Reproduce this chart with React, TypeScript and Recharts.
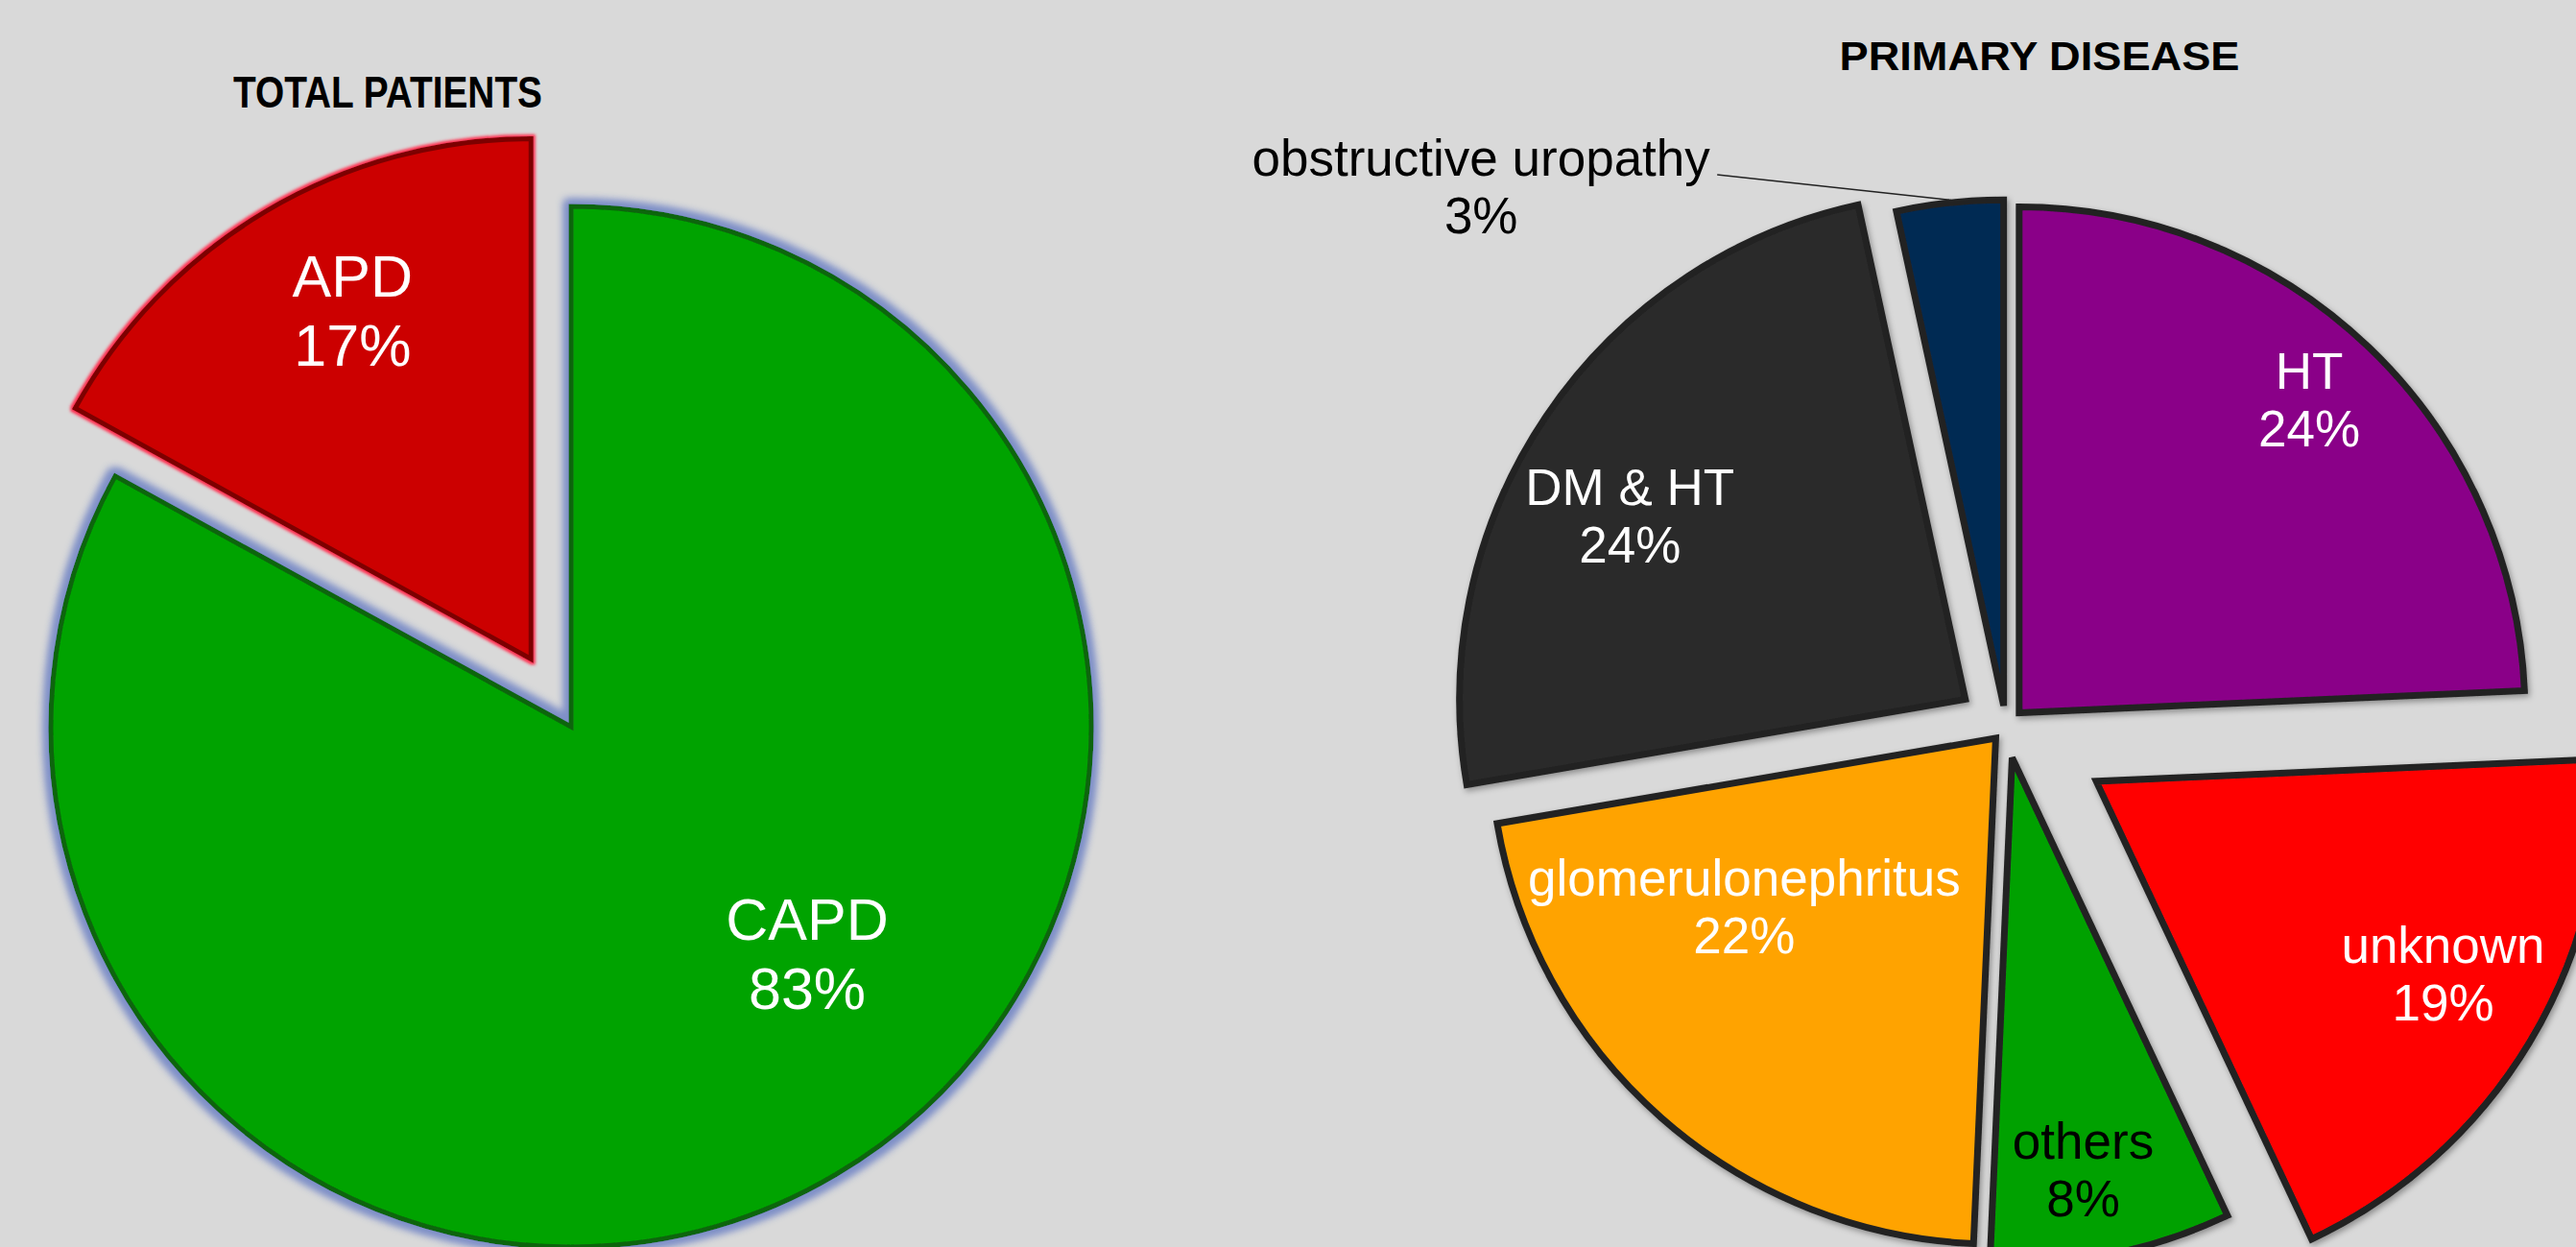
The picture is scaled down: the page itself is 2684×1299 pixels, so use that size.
import { PieChart, Pie, Cell } from 'recharts'

const W = 2684
const H = 1299

// TOTAL PATIENTS
const modalityNames = ['CAPD', 'APD']
const modalityValues = [83, 17]

// PRIMARY DISEASE (clockwise from 12 o'clock)
const diseaseNames = ['HT', 'unknown', 'others', 'glomerulonephritus', 'DM & HT', 'obstructive uropathy']
const diseaseValues = [24.3, 18.7, 7.7, 21.6, 24.3, 3.4]

const modalityData = modalityNames.map((name, i) => ({ name, value: modalityValues[i] }))
const diseaseData = diseaseNames.map((name, i) => ({ name, value: diseaseValues[i] }))

// styling
const FONT = "'Liberation Sans', Arial, Helvetica, sans-serif"
const LEFT = { cx: 595, cy: 757, r: 542 }
const RIGHT = { cx: 2090, cy: 757, r: 527 }

const modalityColors = ['#04a304', '#cc0000']
const modalityStrokes = ['#0a650a', '#7d0000']
const modalityFilters = ['url(#glowBlue)', 'url(#glowRed)']
const modalityExplode = [0, 82]
// [clock angle, fraction of radius] from slice tip
const modalityLabelPos = [
  [133.8, 0.629],
  [332.9, 0.753],
]

const diseaseColors = ['#8a0088', '#ff0606', '#05a105', '#ffa305', '#2b2b2b', '#052a52']
const diseaseText = ['#ffffff', '#ffffff', '#000000', '#ffffff', '#ffffff', '#000000']
const diseaseExplode = [20, 110, 33, 16, 51, 22]
const diseaseLabelPos = [
  [42.8, 0.844],
  [119.0, 0.784],
  [170.2, 0.825],
  [236.25, 0.598],
  [298.7, 0.756],
  [314.8, 1.456],
]

function clockMids(values: number[]) {
  const total = values.reduce((a, b) => a + b, 0)
  let acc = 0
  return values.map(v => {
    const mid = ((acc + v / 2) / total) * 360
    acc += v
    return mid
  })
}

function polar(cx: number, cy: number, r: number, deg: number) {
  const rad = (deg * Math.PI) / 180
  return { x: cx + r * Math.sin(rad), y: cy - r * Math.cos(rad) }
}

const modalityMids = clockMids(modalityValues)
const diseaseMids = clockMids(diseaseValues)

function twoLineLabel(
  x: number,
  y: number,
  name: string,
  pct: string,
  size: number,
  lineHeight: number,
  color: string
) {
  const first = y - lineHeight / 2 + (size * 0.716) / 2
  return (
    <g>
      <text x={x} y={first} textAnchor="middle" fontFamily={FONT} fontSize={size} fill={color}>
        {name}
      </text>
      <text x={x} y={first + lineHeight} textAnchor="middle" fontFamily={FONT} fontSize={size} fill={color}>
        {pct}
      </text>
    </g>
  )
}

export default function App() {
  return (
    <div style={{ position: 'fixed', left: 0, top: 0, width: W, height: H, background: '#d9d9d9' }}>
      <PieChart width={W} height={H} margin={{ top: 0, right: 0, bottom: 0, left: 0 }}>
        <defs>
          <filter id="glowBlue" x="-10%" y="-10%" width="120%" height="120%">
            <feMorphology in="SourceAlpha" operator="dilate" radius="4" result="d" />
            <feGaussianBlur in="d" stdDeviation="4.5" result="b" />
            <feFlood floodColor="#7f90c8" />
            <feComposite in2="b" operator="in" result="g" />
            <feMerge>
              <feMergeNode in="g" />
              <feMergeNode in="g" />
              <feMergeNode in="SourceGraphic" />
            </feMerge>
          </filter>
          <filter id="glowRed" x="-10%" y="-10%" width="120%" height="120%">
            <feMorphology in="SourceAlpha" operator="dilate" radius="1.5" result="d" />
            <feGaussianBlur in="d" stdDeviation="1.5" result="b" />
            <feFlood floodColor="#ff3050" />
            <feComposite in2="b" operator="in" result="g" />
            <feMerge>
              <feMergeNode in="g" />
              <feMergeNode in="SourceGraphic" />
            </feMerge>
          </filter>
          <filter id="shade" x="-10%" y="-10%" width="120%" height="120%">
            <feDropShadow dx="2" dy="3" stdDeviation="3" floodColor="#000" floodOpacity="0.35" />
          </filter>
        </defs>

        <text
          x={404}
          y={112}
          textAnchor="middle"
          fontFamily={FONT}
          fontWeight="bold"
          fontSize={47}
          textLength={322}
          lengthAdjust="spacingAndGlyphs"
          fill="#000"
        >
          TOTAL PATIENTS
        </text>
        <text
          x={2125}
          y={73}
          textAnchor="middle"
          fontFamily={FONT}
          fontWeight="bold"
          fontSize={43}
          textLength={417}
          lengthAdjust="spacingAndGlyphs"
          fill="#000"
        >
          PRIMARY DISEASE
        </text>

        {modalityData.map((entry, i) => {
          const c = polar(LEFT.cx, LEFT.cy, modalityExplode[i], modalityMids[i])
          return (
            <Pie
              key={`m-${entry.name}`}
              data={modalityData}
              dataKey="value"
              nameKey="name"
              cx={c.x}
              cy={c.y}
              outerRadius={LEFT.r}
              startAngle={90}
              endAngle={-270}
              isAnimationActive={false}
              labelLine={false}
              label={(p: any) => {
                if (p.index !== i) return <g />
                const [ang, frac] = modalityLabelPos[i]
                const pos = polar(p.cx, p.cy, LEFT.r * frac, ang)
                return twoLineLabel(pos.x, pos.y, entry.name, `${Math.round(p.percent * 100)}%`, 61, 72, '#ffffff')
              }}
            >
              {modalityData.map((d, j) => (
                <Cell
                  key={d.name}
                  fill={j === i ? modalityColors[i] : 'none'}
                  stroke={j === i ? modalityStrokes[i] : 'none'}
                  strokeWidth={5}
                  filter={j === i ? modalityFilters[i] : undefined}
                />
              ))}
            </Pie>
          )
        })}

        {diseaseData.map((entry, i) => {
          const c = polar(RIGHT.cx, RIGHT.cy, diseaseExplode[i], diseaseMids[i])
          return (
            <Pie
              key={`d-${entry.name}`}
              data={diseaseData}
              dataKey="value"
              nameKey="name"
              cx={c.x}
              cy={c.y}
              outerRadius={RIGHT.r}
              startAngle={90}
              endAngle={-270}
              isAnimationActive={false}
              labelLine={false}
              label={(p: any) => {
                if (p.index !== i) return <g />
                const [ang, frac] = diseaseLabelPos[i]
                const pos = polar(p.cx, p.cy, RIGHT.r * frac, ang)
                const pct = `${Math.round(p.percent * 100)}%`
                const body = twoLineLabel(pos.x, pos.y, entry.name, pct, 53, 60, diseaseText[i])
                if (frac <= 1) return body
                const end = polar(p.cx, p.cy, RIGHT.r + 3, diseaseMids[i])
                return (
                  <g>
                    <line x1={pos.x + 246} y1={pos.y - 12.5} x2={end.x} y2={end.y} stroke="#222" strokeWidth={1.5} />
                    {body}
                  </g>
                )
              }}
            >
              {diseaseData.map((d, j) => (
                <Cell
                  key={d.name}
                  fill={j === i ? diseaseColors[i] : 'none'}
                  stroke={j === i ? '#232323' : 'none'}
                  strokeWidth={7}
                  filter={j === i ? 'url(#shade)' : undefined}
                />
              ))}
            </Pie>
          )
        })}
      </PieChart>
    </div>
  )
}
